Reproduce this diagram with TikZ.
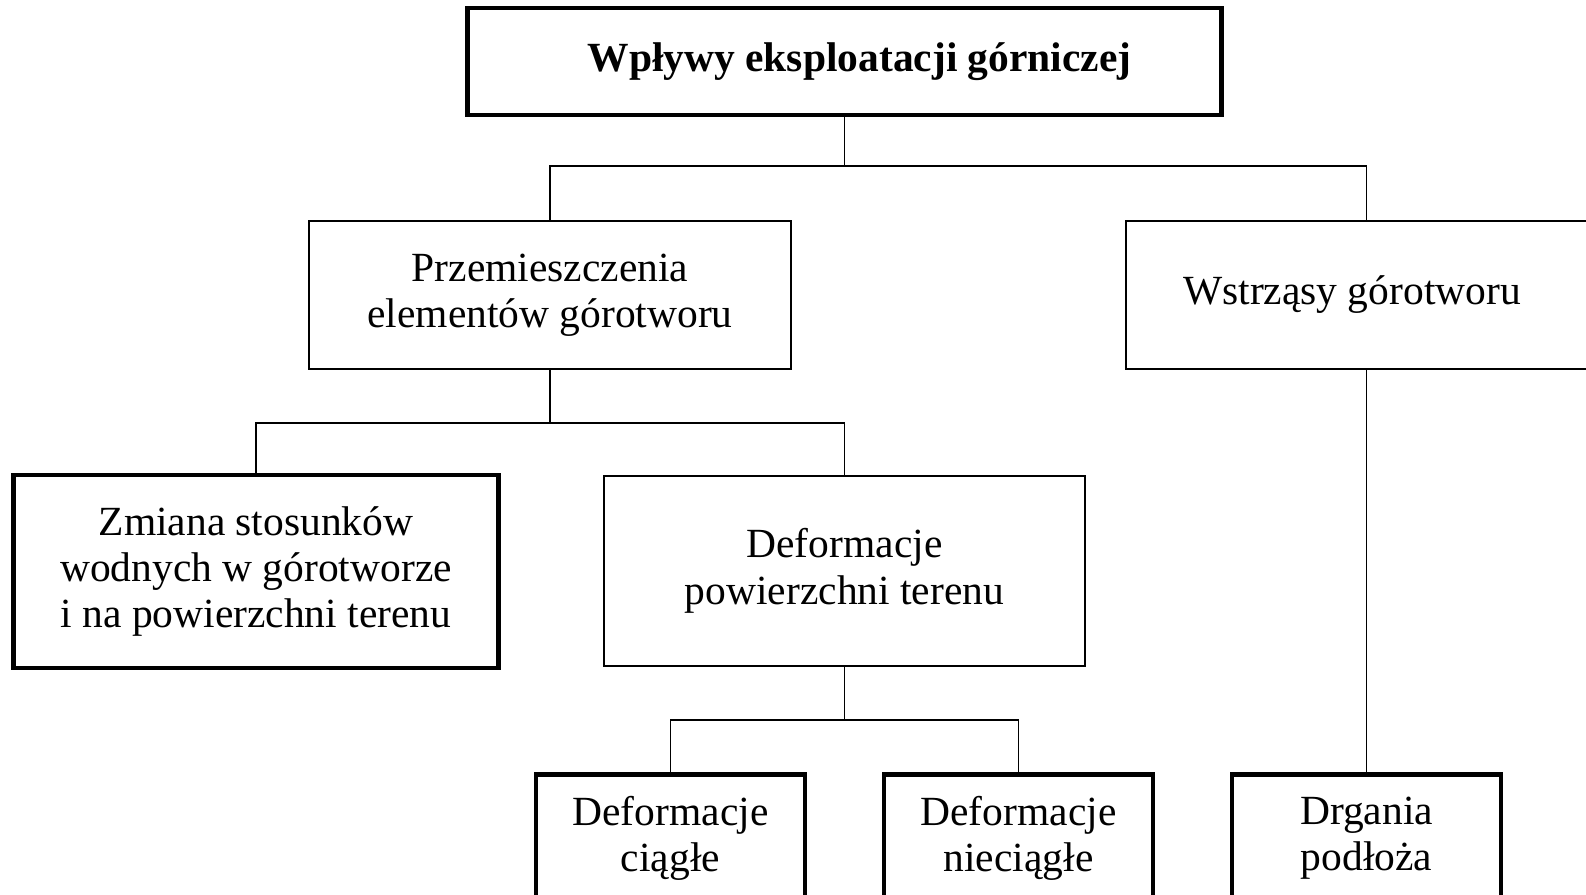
\documentclass[tikz,border=0pt]{standalone}
\usepackage{fontspec}
\setmainfont{Liberation Serif}
\usetikzlibrary{positioning,calc}

\begin{document}
\begin{tikzpicture}[
            x=0.01cm, y=-0.01cm,
            every node/.style={font=\fontsize{11.8}{13.2}\selectfont, align=center, inner sep=0pt},
            thin_box/.style={rectangle, draw, line width=0.55pt},
            thick_box/.style={rectangle, draw, line width=1.35pt},
            low_box/.style={thick_box, anchor=north, minimum width=2.69cm, minimum height=1.28cm},
            link/.style={line width=0.55pt}
        ]
            \useasboundingbox (0,0) rectangle (1586,895);
            \clip (0,0) rectangle (1586,895);
            % top level
            \node[thick_box, minimum width=7.53cm, minimum height=1.07cm] (root) at (844.5,61.5)
                {\hspace*{0.3cm}\textbf{Wpływy eksploatacji górniczej}};
            % second level
            \node[thin_box, minimum width=4.81cm, minimum height=1.485cm] (przem) at (550,295)
                {Przemieszczenia\\elementów górotworu};
            \node[thin_box, minimum width=4.66cm, minimum height=1.485cm] (wstrz) at (1359,295)
                {Wstrząsy górotworu\hspace*{0.14cm}};
            % third level
            \node[thick_box, minimum width=4.84cm, minimum height=1.93cm] (zmiana) at (256,571.5)
                {Zmiana stosunków\\wodnych w górotworze\\i na powierzchni terenu};
            \node[thin_box, minimum width=4.81cm, minimum height=1.905cm] (defpow) at (844.5,571)
                {Deformacje\\powierzchni terenu};
            % bottom level
            \node[low_box] (defc) at (670.5,772) {Deformacje\\ciągłe};
            \node[low_box] (defn) at (1018.5,772) {Deformacje\\nieciągłe};
            \node[low_box] (drg) at (1366.5,772) {Drgania\\podłoża};
            % connectors
            \coordinate (j1) at (844.5,166);
            \coordinate (j2) at (550,423);
            \coordinate (j3) at (844.5,720);
            \draw[link] (root.south) -- (j1);
            \draw[link] (przem.north) |- (j1) -| (drg.north |- wstrz.north);
            \draw[link] (drg.north) -- (drg.north |- wstrz.south);
            \draw[link] (przem.south) -- (j2);
            \draw[link] (zmiana.north) |- (j2) -| (defpow.north);
            \draw[link] (defpow.south) -- (j3);
            \draw[link] (defc.north) |- (j3) -| (defn.north);
        \end{tikzpicture}
\end{document}
